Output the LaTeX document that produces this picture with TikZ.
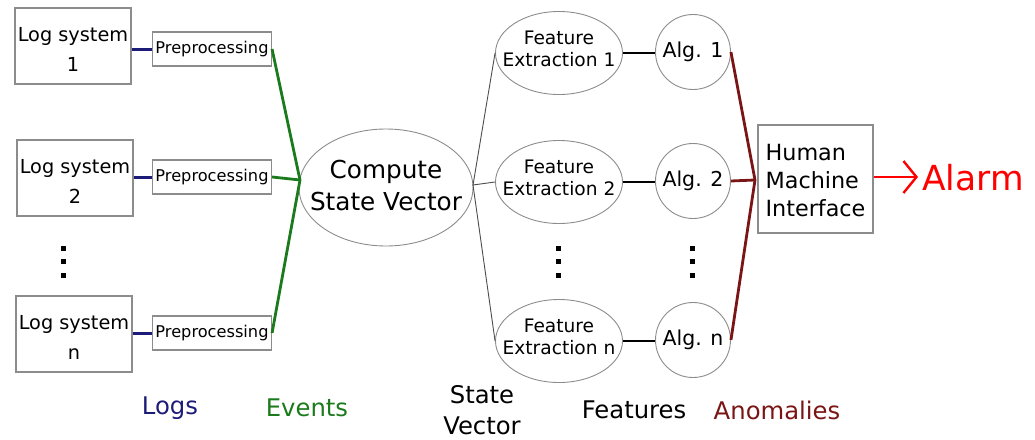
\documentclass[tikz,border=0pt]{standalone}
\usepackage{fontspec}
\setmainfont{DejaVu Sans}
\usetikzlibrary{shapes.geometric,arrows.meta}

\definecolor{logblue}{HTML}{1C1C78}
\definecolor{evgreen}{HTML}{1B7A1B}
\definecolor{anred}{HTML}{7A1515}
\definecolor{framegray}{HTML}{8C8C8C}

\tikzset{
  fs/.style 2 args={font=\fontsize{#1}{#2}\selectfont},
  % frames are drawn empty; their text is set as a centred label
  logbox/.style={draw=framegray, line width=1.1pt, minimum width=116pt, minimum height=76pt, inner sep=0pt},
  logtext/.style={inner sep=0pt, align=center, fs={19.3}{30}, yshift=-3.5pt},
  prebox/.style={draw=framegray, line width=1.1pt, minimum width=119pt, minimum height=34pt,
                 inner sep=0pt, fs={16.2}{18}},
  csvnode/.style={draw=framegray, line width=0.9pt, ellipse, minimum width=174pt, minimum height=117pt, inner sep=0pt},
  csvtext/.style={inner sep=0pt, align=center, fs={24.7}{32.5}, yshift=2pt},
  fenode/.style={draw=framegray, line width=0.9pt, ellipse, minimum width=127pt, minimum height=83pt, inner sep=0pt},
  fetext/.style={inner sep=0pt, align=center, fs={18.6}{22}, yshift=4pt},
  algnode/.style={draw=framegray, line width=0.9pt, circle, minimum size=75pt,
                  inner sep=0pt, fs={20.5}{24}},
  hmibox/.style={draw=framegray, line width=1.1pt, minimum width=115pt, minimum height=108pt, inner sep=0pt},
  hmitext/.style={inner sep=0pt, align=left, fs={22.3}{28}, yshift=-2pt},
  caption/.style={inner sep=0pt, align=center, fs={24.3}{31}},
  logline/.style={draw=logblue, line width=3pt},
  evline/.style={draw=evgreen, line width=2.8pt},
  svline/.style={draw=black!70, line width=0.9pt},
  featline/.style={draw=black, line width=2.8pt},
  anline/.style={draw=anred, line width=2.8pt},
  vdots/.style={fill=black},
}

\begin{document}
\begin{tikzpicture}[x=1pt,y=-1pt]
\useasboundingbox (0,0) rectangle (1035,439);

% log sources
\node[logbox, label={[logtext]center:Log system\\1}] (log1) at (73,46)  {};
\node[logbox, label={[logtext]center:Log system\\2}] (log2) at (75,178) {};
\node[logbox, label={[logtext]center:Log system\\n}] (logn) at (74,334) {};

% preprocessing stages
\node[prebox] (pre1) at (212,49)  {Preprocessing};
\node[prebox] (pre2) at (212,177) {Preprocessing};
\node[prebox] (pren) at (212,333) {Preprocessing};

% state vector
\node[csvnode, label={[csvtext]center:Compute\\State Vector}] (csv) at (386,187.5) {};

% feature extraction
\node[fenode, label={[fetext]center:Feature\\Extraction 1}] (fe1) at (559,53)  {};
\node[fenode, label={[fetext]center:Feature\\Extraction 2}] (fe2) at (559,182) {};
\node[fenode, label={[fetext]center:Feature\\Extraction n}] (fen) at (559,341) {};

% detection algorithms
\node[algnode] (alg1) at (693,52)  {Alg. 1};
\node[algnode] (alg2) at (693,181) {Alg. 2};
\node[algnode] (algn) at (693,340) {Alg. n};

% operator interface and alarm
\node[hmibox, label={[hmitext]center:Human\\Machine\\Interface}] (hmi) at (815.5,179) {};
\node[anchor=west, inner sep=0pt, text=red, fs={34.5}{40}] (alarm) at (922,178) {Alarm};

% junction points
\coordinate (ev) at (300,180);
\coordinate (sv) at (473,185);
\coordinate (an) at (755,180);

% logs -> preprocessing
\draw[logline] (pre1.west -| log1.east) -- (pre1.west);
\draw[logline] (pre2.west -| log2.east) -- (pre2.west);
\draw[logline] (pren.west -| logn.east) -- (pren.west);

% events -> state vector
\draw[evline] (pre1.east) -- (ev);
\draw[evline] (pre2.east) -- (ev);
\draw[evline] (pren.east) -- (ev);

% state vector -> feature extraction
\draw[svline] (sv) -- (fe1.west);
\draw[svline] (sv) -- (fe2.west);
\draw[svline] (sv) -- (fen.west);

% features -> algorithms (horizontal links)
\draw[featline] (fe1.east) -- (fe1.east -| alg1.west);
\draw[featline] (fe2.east) -- (fe2.east -| alg2.west);
\draw[featline] (fen.east) -- (fen.east -| algn.west);

% anomalies -> interface
\draw[anline] (alg1.east) -- (an);
\draw[anline] (alg2.east) -- (an);
\draw[anline] (algn.east) -- (an);

% alarm output
\draw[red, line width=2.4pt, -{Straight Barb[length=13pt,width=32pt,line width=2.4pt]}]
  (hmi.east |- 0,177) -- (918,177);

% ellipsis dots
\foreach \xx in {63,558,692}{
  \foreach \yy in {248,261.5,275}{
    \fill[vdots] (\xx-2.5,\yy-2.5) rectangle (\xx+2.5,\yy+2.5);
  }
}

% layer captions
\node[caption, text=logblue] (capLogs) at (170,408) {Logs};
\node[caption, text=evgreen] (capEvents) at (307,408) {Events};
\node[caption] (capSV) at (482,410) {State\\Vector};
\node[caption] (capFeat) at (634,410) {Features};
\node[caption, text=anred] (capAnom) at (777,410) {Anomalies};
\end{tikzpicture}
\end{document}
